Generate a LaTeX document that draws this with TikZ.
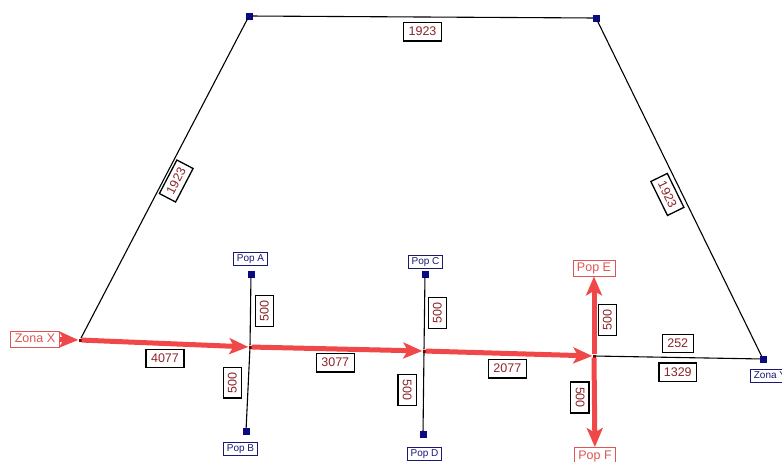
\documentclass[tikz,border=0pt]{standalone}
\usepackage{fontspec}
\setmainfont{Liberation Sans}
\usetikzlibrary{arrows.meta,calc}

\definecolor{navy}{RGB}{25,25,115}
\definecolor{mark}{RGB}{10,10,130}
\definecolor{numred}{RGB}{140,35,40}
\definecolor{flow}{RGB}{240,72,72}
\definecolor{flowtxt}{RGB}{222,85,85}

\tikzset{
  site/.style={rectangle, draw=mark, fill=mark, minimum size=6pt, inner sep=0pt},
  joint/.style={rectangle, fill=black!55!red, minimum size=3pt, inner sep=0pt},
  poplbl/.style={draw=navy, line width=0.9pt, fill=white, text=navy,
    font=\fontsize{10}{12}\selectfont, inner xsep=3.5pt, inner ysep=1.8pt,
    text height=7.2pt, text depth=2.1pt},
  hotlbl/.style={draw=flowtxt, line width=0.9pt, fill=white, text=flowtxt,
    font=\fontsize{12.5}{14}\selectfont, inner xsep=4pt, inner ysep=2.5pt,
    text height=9pt, text depth=2pt},
  elbl/.style={draw=black, line width=1.3pt, fill=white, text=numred,
    font=\fontsize{12.5}{14}\selectfont, inner xsep=5pt, inner ysep=4.5pt,
    text height=8.8pt, text depth=0.5pt},
  wire/.style={draw=black, line width=1.1pt},
  flowline/.style={draw=flow, line width=5pt,
    -{Stealth[length=19pt,width=16pt,inset=4.5pt]}},
}

\begin{document}
\begin{tikzpicture}[x=1pt,y=-1pt]
\useasboundingbox[fill=white] (0,0) rectangle (782,461);

% junctions and end points
\node[joint] (jX) at (80,340) {};
\node[joint] (jA) at (250,347) {};
\node[joint] (jC) at (424,351) {};
\node[joint] (jE) at (594,356) {};
\node[site] (tl) at (249,16) {};
\node[site] (tr) at (596,18) {};
\node[site] (zy) at (763,359) {};
\node[site] (mA) at (251,274) {};
\node[site] (mB) at (246,431) {};
\node[site] (mC) at (425,274) {};
\node[site] (mD) at (423,434) {};

% place names
\node[hotlbl] (zx) at (35,339) {Zona X};
\node[poplbl] (zyl) at (770,375.5) {Zona Y};
\node[poplbl] (pAl) at (250.5,258.5) {Pop A};
\node[poplbl] (pBl) at (240.5,448.5) {Pop B};
\node[poplbl] (pCl) at (425.5,261.5) {Pop C};
\node[poplbl] (pDl) at (424.5,453.5) {Pop D};
\node[hotlbl] (pEl) at (594,268) {Pop E};
\node[hotlbl] (pFl) at (595,455.5) {Pop F};

% outer ring
\draw[wire] (jX) -- node[elbl, sloped, pos=.51, below=2pt] {1923} (tl);
\draw[wire] (tl) -- node[elbl, below=5pt] {1923} (tr);
\draw[wire] (tr) -- node[elbl, sloped, pos=.5, below=3.7pt] {1923} (zy);
\draw[wire] (jE) -- node[elbl, above=4pt] {252} node[elbl, below=5pt] {1329} (zy);

% branches to the population points
\draw[wire] (jA) -- node[elbl, pos=.5, shift={(14,0)}, rotate=90] {500} (mA);
\draw[wire] (jA) -- node[elbl, pos=.43, shift={(-15.8,0)}, rotate=90] {500} (mB);
\draw[wire] (jC) -- node[elbl, pos=.5, shift={(13,0)}, rotate=90] {500} (mC);
\draw[wire] (jC) -- node[elbl, pos=.48, shift={(-16.5,0)}, rotate=-90] {500} (mD);

% main flow
\draw[flowline] (zx) -- (jX);
\draw[flowline] (jX) -- node[elbl, pos=.5, below=5pt] {4077} (jA);
\draw[flowline] (jA) -- node[elbl, pos=.49, below=4pt] {3077} (jC);
\draw[flowline] (jC) -- node[elbl, pos=.49, below=5.5pt] {2077} (jE);
\draw[flowline] (jE) -- node[elbl, pos=.44, shift={(13.5,0)}, rotate=90] {500} (pEl);
\draw[flowline] (jE) -- node[elbl, pos=.445, shift={(-14.5,0)}, rotate=-90] {500} (pFl);
\end{tikzpicture}
\end{document}
